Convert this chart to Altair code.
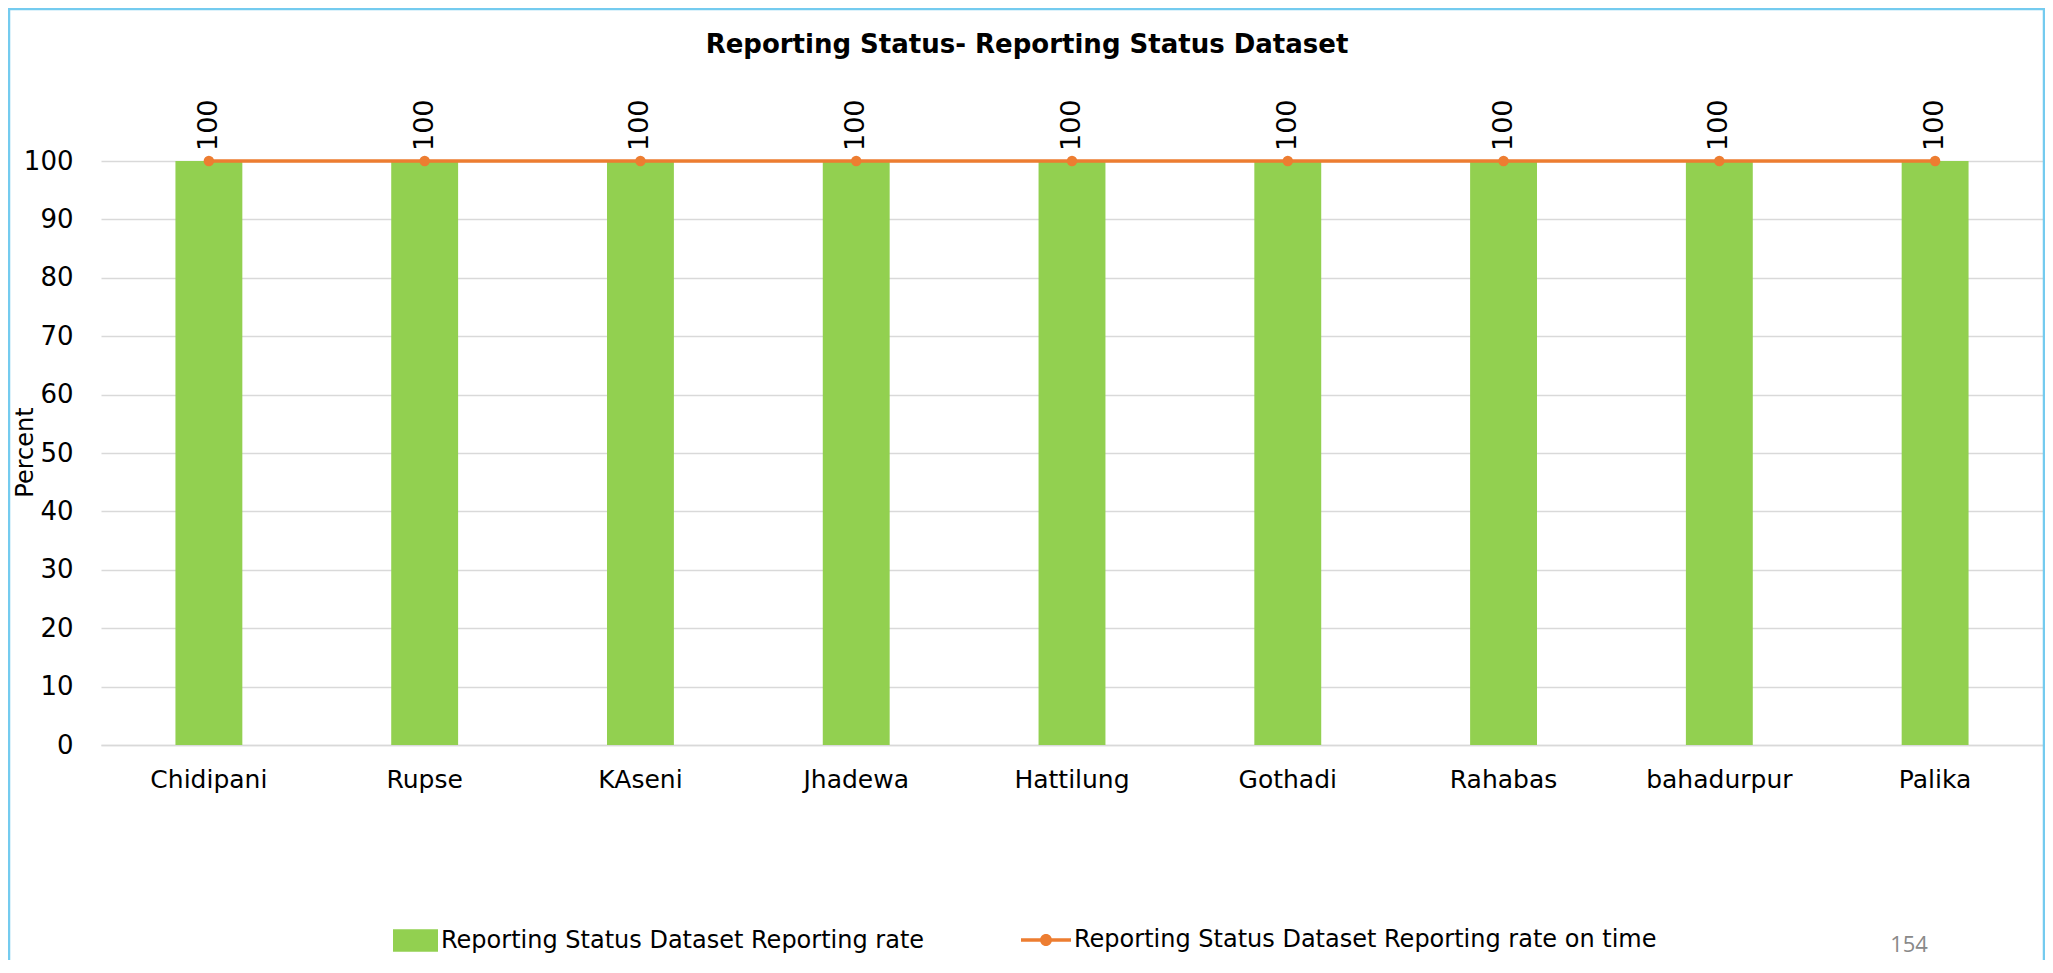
import altair as alt
import pandas as pd

categories = ["Chidipani", "Rupse", "KAseni", "Jhadewa", "Hattilung",
              "Gothadi", "Rahabas", "bahadurpur", "Palika"]
reporting_rate = [100, 100, 100, 100, 100, 100, 100, 100, 100]
reporting_rate_on_time = [100, 100, 100, 100, 100, 100, 100, 100, 100]
y_ticks = [0, 10, 20, 30, 40, 50, 60, 70, 80, 90, 100]

series_bar = "Reporting Status Dataset Reporting rate"
series_line = "Reporting Status Dataset Reporting rate on time"
title_text = ["Reporting Status- Reporting Status Dataset"]
page_number = ["154"]

GREEN = "#92D050"
ORANGE = "#ED7D31"
FONT = "DejaVu Sans"

df = pd.DataFrame({
    "category": categories,
    "rate": reporting_rate,
    "on_time": reporting_rate_on_time,
    "s_bar": [series_bar] * len(categories),
    "s_line": [series_line] * len(categories),
})

x_enc = alt.X(
    "category:N",
    sort=categories,
    scale=alt.Scale(paddingInner=0.69, paddingOuter=0.345),
    axis=alt.Axis(title=None, labelAngle=0, labelFontSize=25, labelFont=FONT,
                  labelColor="#000000", labelPadding=22, ticks=False,
                  domain=True, domainColor="#D9D9D9", domainWidth=1.5),
)
y_scale = alt.Scale(domain=[0, 100], nice=False)

base = alt.Chart(df)

bars = base.mark_bar(color=GREEN).encode(
    x=x_enc,
    y=alt.Y("rate:Q", scale=y_scale,
            axis=alt.Axis(values=y_ticks, title="Percent", titleFontSize=24,
                          titleFont=FONT, titleFontWeight="normal",
                          titleColor="#000000", titleX=-76, titleY=291,
                          titleAngle=270, titleAlign="center",
                          titleBaseline="middle",
                          labelFontSize=26, labelFont=FONT, labelColor="#000000",
                          labelPadding=28, ticks=False, domain=False,
                          grid=True, gridColor="#D9D9D9", gridWidth=1.5)),
    color=alt.Color(
        "s_bar:N",
        scale=alt.Scale(domain=[series_bar], range=[GREEN]),
        legend=alt.Legend(orient="none", legendX=292, legendY=757, title=None,
                          symbolType="M-1,-0.5H1V0.5H-1Z", symbolSize=2025,
                          symbolStrokeWidth=0, labelFontSize=24, labelFont=FONT,
                          labelColor="#000000", labelOffset=3, padding=0,
                          labelLimit=800),
    ),
)

line = base.mark_line(color=ORANGE, strokeWidth=3.5).encode(
    x=alt.X("category:N", sort=categories),
    y=alt.Y("on_time:Q", scale=y_scale),
)

points = base.mark_point(filled=True, size=110, opacity=1).encode(
    x=alt.X("category:N", sort=categories),
    y=alt.Y("on_time:Q", scale=y_scale),
    color=alt.Color(
        "s_line:N",
        scale=alt.Scale(domain=[series_line], range=[ORANGE]),
        legend=alt.Legend(orient="none", legendX=920, legendY=754, title=None,
                          symbolType="M-1,-0.07H1V0.07H-1Z M0.24,0A0.24,0.24,0,1,1,-0.24,0A0.24,0.24,0,1,1,0.24,0Z",
                          symbolSize=2500, symbolStrokeWidth=0,
                          labelFontSize=24, labelFont=FONT, labelColor="#000000",
                          labelOffset=3, padding=0, labelLimit=800),
    ),
)

labels = base.mark_text(angle=270, align="left", baseline="middle", dx=10,
                        fontSize=27, font=FONT, color="#000000").encode(
    x=alt.X("category:N", sort=categories),
    y=alt.Y("on_time:Q", scale=y_scale),
    text=alt.Text("on_time:Q"),
)

title_df = pd.DataFrame({"t": title_text})
title = alt.Chart(title_df).mark_text(
    font=FONT, fontSize=26, fontWeight="bold", color="#000000",
    align="center", baseline="middle").encode(
    x=alt.value(926), y=alt.value(-116), text="t:N")

page_df = pd.DataFrame({"t": page_number})
page_num = alt.Chart(page_df).mark_text(
    font="Open Sans", fontSize=22, color="#898989", align="center",
    baseline="middle").encode(
    x=alt.value(1808), y=alt.value(784), text="t:N")

frame = alt.Chart(page_df).mark_rect(
    fillOpacity=0, stroke="#74CBEF", strokeWidth=2.5).encode(
    x=alt.value(-92), x2=alt.value(1943), y=alt.value(-152), y2=alt.value(840))

chart = alt.layer(bars, line, points, labels, title, page_num, frame).resolve_scale(
    color="independent"
).properties(
    width=1942,
    height=584,
    autosize=alt.AutoSizeParams(type="none"),
    padding={"left": 93, "top": 153, "right": 2, "bottom": 215},
).configure_view(stroke=None)

chart.save("out.html", embed_options={"renderer": "svg", "actions": False})
